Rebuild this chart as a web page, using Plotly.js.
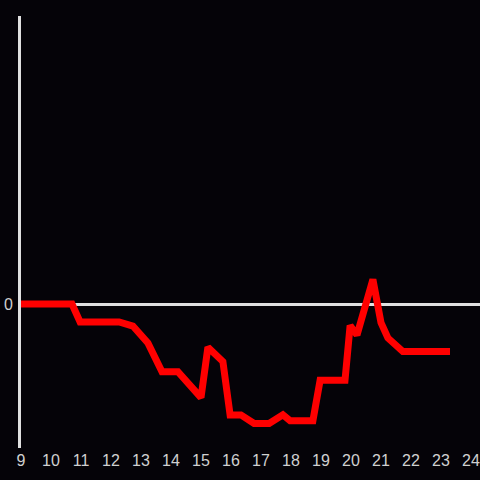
<!DOCTYPE html>
<html>
<head>
<meta charset="utf-8">
<script src="https://cdn.plot.ly/plotly-3.0.1.min.js"></script>
<style>html,body{margin:0;padding:0;background:#050308;}#chart{width:480px;height:480px;}</style>
</head>
<body>
<div id="chart"></div>
<script>
const hours = [9, 10.7, 10.97, 12.27, 12.73, 13.23, 13.7, 14.23, 15.0, 15.23, 15.73, 15.97, 16.33, 16.77, 17.27, 17.73, 17.97, 18.73, 18.97, 19.8, 19.97, 20.2, 20.73, 21.0, 21.23, 21.73, 23.3];
const values = [0, 0, -0.125, -0.125, -0.153, -0.27, -0.47, -0.47, -0.65, -0.30, -0.40, -0.77, -0.77, -0.83, -0.83, -0.77, -0.81, -0.81, -0.53, -0.53, -0.15, -0.215, 0.17, -0.13, -0.236, -0.33, -0.33];
const xTicks = [9,10,11,12,13,14,15,16,17,18,19,20,21,22,23,24];
const yTicks = [0];
const tf = {family: 'Liberation Sans, Arial, sans-serif', size: 16, color: '#d0d0d0'};

Plotly.newPlot('chart', [{
  x: hours, y: values, type: 'scatter', mode: 'lines',
  line: {color: '#ff0000', width: 7}, hoverinfo: 'skip'
}], {
  width: 480, height: 480,
  paper_bgcolor: '#050308', plot_bgcolor: '#050308',
  margin: {l: 21, r: 0, t: 16, b: 32},
  showlegend: false,
  font: tf,
  xaxis: {range: [9, 24.3], tickvals: xTicks, ticktext: xTicks.map(String), tickfont: tf, showgrid: false, zeroline: false, showline: false, ticks: '', ticklabelstandoff: 1, fixedrange: true},
  yaxis: {range: [-1, 2], tickvals: yTicks, ticktext: ['0'], tickfont: tf, showgrid: false, zeroline: true, zerolinecolor: '#e0e0e0', zerolinewidth: 3, showline: true, linecolor: '#e0e0e0', linewidth: 3, ticks: '', ticklabelstandoff: 2, fixedrange: true}
}, {displayModeBar: false, staticPlot: true});
</script>
</body>
</html>
